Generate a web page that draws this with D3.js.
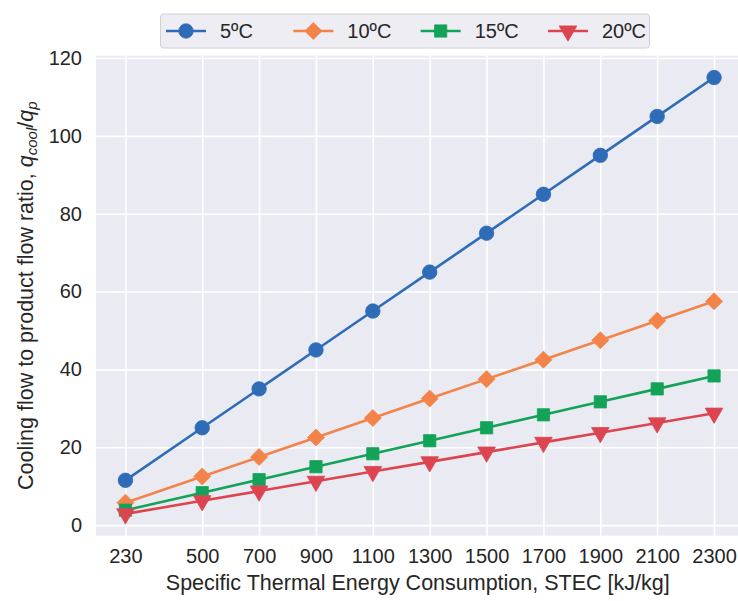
<!DOCTYPE html>
<html>
<head>
<meta charset="utf-8">
<script src="https://cdn.jsdelivr.net/npm/d3@7"></script>
<style>
  body { margin: 0; background: #fff; }
  svg { display: block; font-family: "Liberation Sans", Arial, sans-serif; }
</style>
</head>
<body>
<svg id="viz"></svg>
<script>
/* Data */

const stec = [230, 500, 700, 900, 1100, 1300, 1500, 1700, 1900, 2100, 2300];
const t5 = [11.5, 25, 35, 45, 55, 65, 75, 85, 95, 105, 115];
const t10 = [5.75, 12.5, 17.5, 22.5, 27.5, 32.5, 37.5, 42.5, 47.5, 52.5, 57.5];
const t15 = [3.83, 8.33, 11.67, 15, 18.33, 21.67, 25, 28.33, 31.67, 35, 38.33];
const t20 = [2.88, 6.25, 8.75, 11.25, 13.75, 16.25, 18.75, 21.25, 23.75, 26.25, 28.75];
const yTicks = [0, 20, 40, 60, 80, 100, 120];
const seriesNames = ["5ºC", "10ºC", "15ºC", "20ºC"];

/* Environment */

const width = 738;
const height = 601;
const plot = {left: 96, right: 743.5, top: 55.7, bottom: 535.7};

const svg = d3.select("#viz")
    .attr("width", width)
    .attr("height", height);

const series = [
  {name: seriesNames[0], values: t5, color: "#2f6cb8", symbol: d3.symbolCircle, size: 165, rot: 0},
  {name: seriesNames[1], values: t10, color: "#f2844a", symbol: d3.symbolDiamond2, size: 185, rot: 0},
  {name: seriesNames[2], values: t15, color: "#12a359", symbol: d3.symbolSquare, size: 150, rot: 0},
  {name: seriesNames[3], values: t20, color: "#dc4550", symbol: d3.symbolTriangle, size: 135, rot: 180}
];

/* Scales */

const pad = (d3.max(stec) - d3.min(stec)) * 0.05;
const x = d3.scaleLinear()
    .domain([d3.min(stec) - pad, d3.max(stec) + pad])
    .range([plot.left, plot.right]);

const allVals = series.flatMap(s => s.values);
const ypad = (d3.max(allVals) - d3.min(allVals)) * 0.05;
const y = d3.scaleLinear()
    .domain([d3.min(allVals) - ypad, d3.max(allVals) + ypad])
    .range([plot.bottom, plot.top]);

/* Background */

svg.append("rect")
    .attr("x", plot.left)
    .attr("y", plot.top)
    .attr("width", plot.right - plot.left)
    .attr("height", plot.bottom - plot.top)
    .attr("fill", "#eaeaf2");

/* Axes (gridlines + labels) */

const gX = svg.append("g")
    .attr("transform", `translate(0,${plot.bottom})`)
    .call(d3.axisBottom(x).tickValues(stec).tickFormat(d3.format("d"))
      .tickSize(-(plot.bottom - plot.top)).tickPadding(13));

const gY = svg.append("g")
    .attr("transform", `translate(${plot.left},0)`)
    .call(d3.axisLeft(y).tickValues(yTicks)
      .tickSize(-(plot.right - plot.left)).tickPadding(14));

[gX, gY].forEach(g => {
  g.select(".domain").remove();
  g.selectAll(".tick line").attr("stroke", "#fff").attr("stroke-width", 1.6);
  g.selectAll(".tick text")
      .attr("fill", "#262626")
      .attr("font-size", 20)
      .attr("font-family", "'Liberation Sans', Arial, sans-serif");
});

/* Lines */

const line = d3.line()
    .x((d, i) => x(stec[i]))
    .y(d => y(d));

const gLines = svg.append("g");

series.forEach(s => {
  gLines.append("path")
      .datum(s.values)
      .attr("fill", "none")
      .attr("stroke", s.color)
      .attr("stroke-width", 2.6)
      .attr("d", line);

  gLines.selectAll(null)
      .data(s.values)
      .enter().append("path")
      .attr("d", d3.symbol().type(s.symbol).size(s.size))
      .attr("transform", (d, i) => `translate(${x(stec[i])},${y(d)}) rotate(${s.rot})`)
      .attr("fill", s.color)
      .attr("stroke", s.color)
      .attr("stroke-width", 0.8);
});

/* Axis titles */

svg.append("text")
    .attr("x", (plot.left + plot.right) / 2 - 2)
    .attr("y", 590)
    .attr("text-anchor", "middle")
    .attr("font-size", 21.5)
    .attr("fill", "#262626")
    .text("Specific Thermal Energy Consumption, STEC [kJ/kg]");

const yl = svg.append("text")
    .attr("transform", `translate(33,${(plot.top + plot.bottom) / 2}) rotate(-90)`)
    .attr("text-anchor", "middle")
    .attr("font-size", 21.5)
    .attr("fill", "#262626");

yl.append("tspan").text("Cooling flow to product flow ratio, ");
yl.append("tspan").attr("font-style", "italic").text("q");
yl.append("tspan").attr("font-style", "italic").attr("font-size", 15).attr("dy", 4).text("cool");
yl.append("tspan").attr("dy", -4).text("/");
yl.append("tspan").attr("font-style", "italic").text("q");
yl.append("tspan").attr("font-style", "italic").attr("font-size", 15).attr("dy", 4).text("p");

/* Legend */

const gLegend = svg.append("g");

gLegend.append("rect")
    .attr("x", 160.5)
    .attr("y", 14)
    .attr("width", 489)
    .attr("height", 34)
    .attr("rx", 3)
    .attr("fill", "#eeedf3")
    .attr("stroke", "#d0d0d6")
    .attr("stroke-width", 1);

const legendX = d3.scalePoint()
    .domain(seriesNames)
    .range([166, 548]);

const item = gLegend.selectAll("g.item")
    .data(series)
    .enter().append("g")
    .attr("class", "item")
    .attr("transform", d => `translate(${legendX(d.name)},31)`);

item.append("line")
    .attr("x1", 0)
    .attr("x2", 40)
    .attr("stroke", d => d.color)
    .attr("stroke-width", 2.6);

item.append("path")
    .attr("d", d => d3.symbol().type(d.symbol).size(d.size)())
    .attr("transform", d => `translate(20,0) rotate(${d.rot})`)
    .attr("fill", d => d.color)
    .attr("stroke", d => d.color)
    .attr("stroke-width", 0.8);

item.append("text")
    .attr("x", 54)
    .attr("dy", "0.35em")
    .attr("font-size", 20)
    .attr("fill", "#262626")
    .text(d => d.name);
</script>
</body>
</html>
